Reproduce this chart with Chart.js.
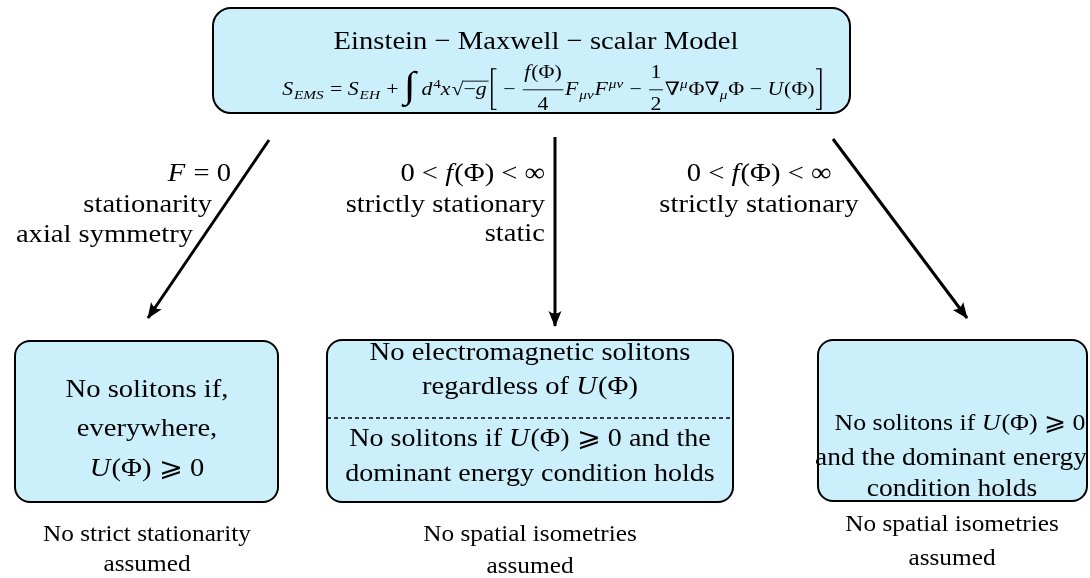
<!DOCTYPE html>
<html>
<head>
<meta charset="utf-8">
<script src="https://cdn.jsdelivr.net/npm/chart.js@4/dist/chart.umd.min.js"></script>
<style>
  html, body { margin: 0; padding: 0; background: #fff; }
  #wrap { width: 1090px; height: 578px; }
</style>
</head>
<body>
<div id="wrap"><canvas id="myChart" width="1090" height="578"></canvas></div>
<script>
// little helpers for rich text runs
const R = t => ({ t: t });
const I = t => ({ t: t, it: true });
const SUB = (t, it) => ({ t: t, it: !!it, sc: 0.7, dy: 0.22 });
const SUP = (t, it) => ({ t: t, it: !!it, sc: 0.7, dy: -0.38 });
const BIG = (t, sc, dy) => ({ t: t, sc: sc, dy: dy || 0 });
const FRAC = (num, den) => ({ frac: [num, den] });
const SQRT = runs => ({ sqrt: runs });
const BR = side => ({ br: side });

// ---- diagram content ----
const titleText = [[R("Einstein − Maxwell − scalar Model")]];
const actionText = [[
  I("S"), SUB("EMS", true), R(" = "), I("S"), SUB("EH", true), R(" + "),
  BIG("∫", 2.0, 0.12), R(" "), I("d"), SUP("4"), I("x"), SQRT([R("−"), I("g")]),
  BR("["), R(" − "), FRAC([I("f"), R("(Φ)")], [R("4")]), I("F"), SUB("μν", true),
  I("F"), SUP("μν", true), R(" − "), FRAC([R("1")], [R("2")]), R("∇"), SUP("μ", true),
  R("Φ∇"), SUB("μ", true), R("Φ − "), I("U"), R("(Φ)"), BR("]")
]];
const leftCond = [[I("F"), R(" = 0")], [R("stationarity")], [R("axial symmetry")]];
const midCond = [[R("0 < "), I("f"), R("(Φ) < ∞")], [R("strictly stationary")], [R("static")]];
const rightCond = [[R("0 < "), I("f"), R("(Φ) < ∞")], [R("strictly stationary")]];
const leftResult = [[R("No solitons if,")], [R("everywhere,")], [I("U"), R("(Φ) ⩾ 0")]];
const midResultA = [[R("No electromagnetic solitons")], [R("regardless of "), I("U"), R("(Φ)")]];
const midResultB = [[R("No solitons if "), I("U"), R("(Φ) ⩾ 0 and the")], [R("dominant energy condition holds")]];
const rightResult = [[R("No solitons if "), I("U"), R("(Φ) ⩾ 0")], [R("and the dominant energy")], [R("condition holds")]];
const leftNote = [[R("No strict stationarity")], [R("assumed")]];
const midNote = [[R("No spatial isometries")], [R("assumed")]];
const rightNote = [[R("No spatial isometries")], [R("assumed")]];

// ---- layout (diagram units = pixels of the 1090x578 sheet, y down) ----
const arrowStart = [[269, 140], [555, 137], [833, 139]];
const arrowEnd = [[148, 318], [555, 326], [967, 318]];
const boxRects = [[213, 8, 850, 113], [15, 341, 278, 502], [327, 340, 733, 502], [818, 340, 1087, 501]];
const boxRadius = [18, 15, 15, 15];
const dashedRule = [[327, 418, 733]];

const textBlocks = [
  { lines: titleText, x: 536, ys: [40], align: "center", size: 26 },
  { lines: actionText, x: 553, ys: [89], align: "center", size: 18.5, sx: 1.18 },
  { lines: leftCond, x: [231, 212, 193], ys: [172, 203, 233], align: "right", size: 26 },
  { lines: midCond, x: 545, ys: [172, 203, 232], align: "right", size: 26 },
  { lines: rightCond, x: 759, ys: [172, 203], align: "center", size: 26 },
  { lines: leftResult, x: 147, ys: [388, 427, 467], align: "center", size: 26 },
  { lines: midResultA, x: 530, ys: [351, 385], align: "center", size: 26 },
  { lines: midResultB, x: 530, ys: [438, 473], align: "center", size: 25.5 },
  { lines: rightResult, x: [960, 951, 952], ys: [422, 457, 488], align: "center", size: 25, sizes: [23.5, 25, 25] },
  { lines: leftNote, x: 147, ys: [533, 563], align: "center", size: 23 },
  { lines: midNote, x: 530, ys: [533, 565], align: "center", size: 23 },
  { lines: rightNote, x: 952, ys: [523, 557], align: "center", size: 23 }
];

const FAM = '"Liberation Serif", "DejaVu Serif", serif';
const SX = 1.1;
const BOX_FILL = "rgb(204, 239, 252)";

function runFont(r, size) {
  return (r.it ? "italic " : "") + (size * (r.sc || 1)).toFixed(2) + "px " + FAM;
}
function runsWidth(ctx, runs, size) {
  let w = 0;
  runs.forEach(r => { w += runWidth(ctx, r, size); });
  return w;
}
function runWidth(ctx, r, size) {
  if (r.br) return size * 0.42;
  if (r.frac) return Math.max(runsWidth(ctx, r.frac[0], size), runsWidth(ctx, r.frac[1], size)) + size * 0.3;
  if (r.sqrt) { ctx.font = runFont({}, size); return ctx.measureText("√").width + runsWidth(ctx, r.sqrt, size) + 1; }
  ctx.font = runFont(r, size);
  return ctx.measureText(r.t).width + (r.it ? size * 0.04 : 0);
}
function drawRuns(ctx, runs, x, base, size) {
  runs.forEach(r => {
    const w = runWidth(ctx, r, size);
    if (r.br) {
      const top = base - size * 1.45, bot = base + size * 0.8;
      const vx = r.br === "[" ? x + size * 0.14 : x + w - size * 0.14;
      const dir = r.br === "[" ? 1 : -1;
      ctx.fillRect(vx - 0.6, top, 1.3, bot - top);
      ctx.fillRect(Math.min(vx, vx + dir * size * 0.22), top, size * 0.22, 1.1);
      ctx.fillRect(Math.min(vx, vx + dir * size * 0.22), bot - 1.1, size * 0.22, 1.1);
    } else if (r.frac) {
      const wn = runsWidth(ctx, r.frac[0], size), wd = runsWidth(ctx, r.frac[1], size);
      drawRuns(ctx, r.frac[0], x + (w - wn) / 2, base - size * 0.95, size);
      drawRuns(ctx, r.frac[1], x + (w - wd) / 2, base + size * 0.78, size);
      ctx.fillRect(x + size * 0.08, base - size * 0.31, w - size * 0.16, 0.9);
    } else if (r.sqrt) {
      ctx.font = runFont({}, size);
      const ws = ctx.measureText("√").width;
      ctx.fillText("√", x, base);
      const wi = runsWidth(ctx, r.sqrt, size);
      ctx.fillRect(x + ws - 0.5, base - size * 0.78, wi + 1.5, 0.9);
      drawRuns(ctx, r.sqrt, x + ws, base, size);
    } else {
      ctx.font = runFont(r, size);
      ctx.fillText(r.t, x, base + (r.dy || 0) * size);
    }
    x += w;
  });
}

const diagramPlugin = {
  id: "diagram",
  beforeDatasetsDraw(chart) {
    const ctx = chart.ctx, xs = chart.scales.x, ys = chart.scales.y;
    ctx.save();
    boxRects.forEach((b, i) => {
      const x0 = xs.getPixelForValue(b[0]), y0 = ys.getPixelForValue(b[1]);
      const x1 = xs.getPixelForValue(b[2]), y1 = ys.getPixelForValue(b[3]);
      ctx.beginPath();
      ctx.roundRect(x0, y0, x1 - x0, y1 - y0, boxRadius[i]);
      ctx.fillStyle = BOX_FILL;
      ctx.fill();
      ctx.lineWidth = 2;
      ctx.strokeStyle = "#000";
      ctx.stroke();
    });
    dashedRule.forEach(d => {
      ctx.beginPath();
      ctx.setLineDash([4, 3]);
      ctx.lineWidth = 1.5;
      ctx.moveTo(xs.getPixelForValue(d[0]), ys.getPixelForValue(d[1]));
      ctx.lineTo(xs.getPixelForValue(d[2]), ys.getPixelForValue(d[1]));
      ctx.stroke();
      ctx.setLineDash([]);
    });
    ctx.restore();
  },
  afterDatasetsDraw(chart) {
    const ctx = chart.ctx, xs = chart.scales.x, ys = chart.scales.y;
    ctx.save();
    ctx.fillStyle = "#000";
    // arrow heads
    arrowEnd.forEach((e, i) => {
      const s = arrowStart[i];
      const tx = xs.getPixelForValue(e[0]), ty = ys.getPixelForValue(e[1]);
      const sx = xs.getPixelForValue(s[0]), sy = ys.getPixelForValue(s[1]);
      const a = Math.atan2(ty - sy, tx - sx);
      const L = 15, hw = 6.5, back = 10;
      ctx.save();
      ctx.translate(tx, ty);
      ctx.rotate(a);
      ctx.beginPath();
      ctx.moveTo(1, 0);
      ctx.lineTo(-L, -hw);
      ctx.quadraticCurveTo(-back, 0, -L, hw);
      ctx.closePath();
      ctx.fill();
      ctx.restore();
    });
    // text
    ctx.textBaseline = "alphabetic";
    ctx.textAlign = "left";
    textBlocks.forEach(blk => {
      blk.lines.forEach((runs, k) => {
        const size = blk.sizes ? blk.sizes[k] : blk.size;
        const sxl = blk.sx || SX;
        const ax = xs.getPixelForValue(Array.isArray(blk.x) ? blk.x[k] : blk.x);
        const base = ys.getPixelForValue(blk.ys[k]) + size * 0.33;
        const w = runsWidth(ctx, runs, size);
        const x0 = blk.align === "right" ? -w : (blk.align === "center" ? -w / 2 : 0);
        ctx.save();
        ctx.translate(ax, base);
        ctx.scale(sxl, 1);
        drawRuns(ctx, runs, x0, 0, size);
        ctx.restore();
      });
    });
    ctx.restore();
  }
};

document.addEventListener("DOMContentLoaded", function () {
  const ctx = document.getElementById("myChart").getContext("2d");

  new Chart(ctx, {
    type: "scatter",
    data: {
      datasets: arrowStart.map((s, i) => ({
        label: "arrow " + (i + 1),
        data: [{ x: s[0], y: s[1] }, { x: arrowEnd[i][0], y: arrowEnd[i][1] }],
        showLine: true,
        borderColor: "#000",
        borderWidth: 3,
        pointRadius: 0,
        fill: false
      }))
    },
    options: {
      responsive: false,
      animation: false,
      layout: { padding: 0 },
      plugins: {
        legend: { display: false },
        tooltip: { enabled: false }
      },
      scales: {
        x: { type: "linear", min: 0, max: 1090, display: false },
        y: { type: "linear", min: 0, max: 578, reverse: true, display: false }
      }
    },
    plugins: [diagramPlugin]
  });
});
</script>
</body>
</html>
